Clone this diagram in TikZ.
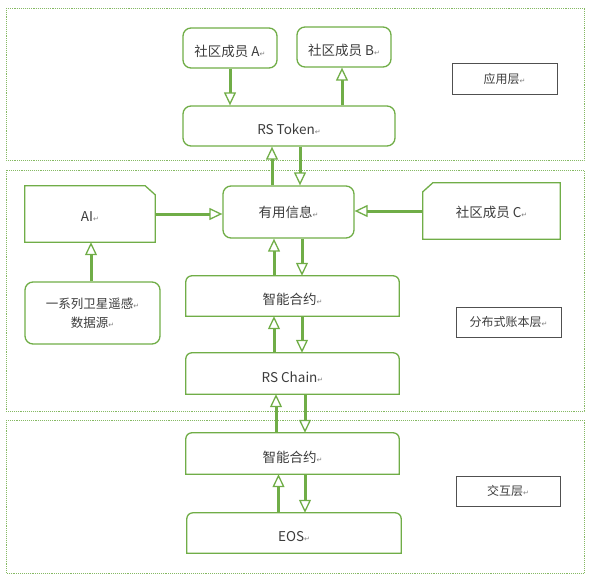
\documentclass[tikz,border=0pt]{standalone}
\usepackage{fontspec}
\setmainfont{Noto Sans CJK SC}
\newfontfamily\symfont{DejaVu Sans}
\usetikzlibrary{arrows.meta}

\definecolor{leaf}{RGB}{112,173,71}
\definecolor{ink}{RGB}{60,60,60}

\tikzset{
  rim/.style={draw=leaf, line width=1.3pt},
  rbox/.style={rim, rounded corners=8pt, inner sep=0pt},
  pbox/.style={inner sep=0pt},
  low/.style={text height=19pt, text depth=2pt},
  lowish/.style={text height=16pt, text depth=2pt},
  tag/.style={draw=ink!90, line width=0.9pt, inner sep=0pt,
    font=\fontsize{12}{15}\selectfont, minimum width=105pt, minimum height=31pt},
  layer/.style={leaf!85, densely dotted, line width=0.9pt},
  flow/.style={leaf, line width=3pt,
    -{Triangle[open, length=13pt, width=12pt, line width=1.3pt]}}
}

% small return mark after each text
\newcommand{\ret}{{\symfont\fontsize{7}{7}\selectfont\textcolor{gray}{↵}}}
% box with rounded top corners
\newcommand{\toprnd}[1]{\draw[rim] (#1.south west) -- ([yshift=-6pt]#1.north west)
  arc[start angle=180, end angle=90, radius=6pt] -- ([xshift=-6pt]#1.north east)
  arc[start angle=90, end angle=0, radius=6pt] -- (#1.south east) -- cycle;}
% boxes with one snipped corner
\newcommand{\snipNE}[1]{\draw[rim] (#1.south west) -- (#1.north west)
  -- ([xshift=-10pt]#1.north east) -- ([yshift=-9pt]#1.north east) -- (#1.south east) -- cycle;}
\newcommand{\snipNW}[1]{\draw[rim] (#1.south east) -- (#1.north east)
  -- ([xshift=10pt]#1.north west) -- ([yshift=-9pt]#1.north west) -- (#1.south west) -- cycle;}

\begin{document}
\begin{tikzpicture}[x=1pt, y=1pt, font=\fontsize{13.5}{16}\selectfont, text=ink]
\useasboundingbox (0,0) rectangle (590,-578);

% layers
\draw[layer] (6,-8) rectangle (584,-160);
\draw[layer] (6,-170) rectangle (584,-411);
\draw[layer] (6,-420) rectangle (584,-573);

% application layer
\node[rbox, low, minimum width=94pt, minimum height=40pt] (memA) at (230,-48) {社区成员 A\ret};
\node[rbox, low, minimum width=94pt, minimum height=40pt] (memB) at (344,-47) {社区成员 B\ret};
\node[rbox, low, minimum width=212pt, minimum height=40pt] (token) at (289,-126) {RS Token\ret};
\node[tag] (appL) at (504.5,-78.5) {应用层\ret};

% ledger layer
\node[pbox, lowish, minimum width=130pt, minimum height=56pt] (ai) at (90,-214) {AI\ret};
\node[rbox, minimum width=131pt, minimum height=52pt] (info) at (288.5,-212) {有用信息\ret};
\node[pbox, lowish, minimum width=137pt, minimum height=56pt] (memC) at (491.5,-211) {社区成员 C\ret};
\node[rbox, minimum width=135pt, minimum height=62pt, align=center,
  font=\fontsize{12.5}{19}\selectfont] (src) at (92.5,-313) {一系列卫星遥感\ret\\数据源\ret};
\node[pbox, low, minimum width=213pt, minimum height=40pt] (sc1) at (292.5,-296) {智能合约\ret};
\node[tag, minimum height=30pt] (distL) at (508.5,-322) {分布式账本层\ret};
\node[pbox, low, minimum width=213pt, minimum height=41pt] (chain) at (292.5,-373.5) {RS Chain\ret};

% interaction layer
\node[pbox, low, minimum width=213pt, minimum height=41pt] (sc2) at (292.5,-453.5) {智能合约\ret};
\node[pbox, low, minimum width=214pt, minimum height=40pt] (eos) at (294,-533) {EOS\ret};
\node[tag, minimum width=104pt, minimum height=30pt] (ixL) at (508,-491) {交互层\ret};

\snipNE{ai}
\snipNW{memC}
\toprnd{sc1}
\toprnd{chain}
\toprnd{sc2}
\toprnd{eos}

% arrows
\draw[flow] (memA.south) -- (memA.south |- token.north);
\draw[flow] ([xshift=-2pt]memB.south |- token.north) -- ([xshift=-2pt]memB.south);
\draw[flow] ([xshift=-16.5pt]info.north) -- ([xshift=-16.5pt]info.north |- token.south);
\draw[flow] ([xshift=11pt]token.south) -- ([xshift=11pt]token.south |- info.north);
\draw[flow] (ai.east) -- (ai.east -| info.west);
\draw[flow] (memC.west) -- (memC.west -| info.east);
\draw[flow] ([xshift=1pt]ai.south |- src.north) -- ([xshift=1pt]ai.south);
\draw[flow] ([xshift=-18.5pt]sc1.north) -- ([xshift=-18.5pt]sc1.north |- info.south);
\draw[flow] ([xshift=9.5pt]sc1.north |- info.south) -- ([xshift=9.5pt]sc1.north);
\draw[flow] ([xshift=-18.5pt]chain.north) -- ([xshift=-18.5pt]chain.north |- sc1.south);
\draw[flow] ([xshift=9.5pt]chain.north |- sc1.south) -- ([xshift=9.5pt]chain.north);
\draw[flow] ([xshift=-16.5pt]sc2.north) -- ([xshift=-16.5pt]sc2.north |- chain.south);
\draw[flow] ([xshift=12.5pt]sc2.north |- chain.south) -- ([xshift=12.5pt]sc2.north);
\draw[flow] ([xshift=-15.5pt]eos.north) -- ([xshift=-15.5pt]eos.north |- sc2.south);
\draw[flow] ([xshift=11pt]eos.north |- sc2.south) -- ([xshift=11pt]eos.north);
\end{tikzpicture}
\end{document}
